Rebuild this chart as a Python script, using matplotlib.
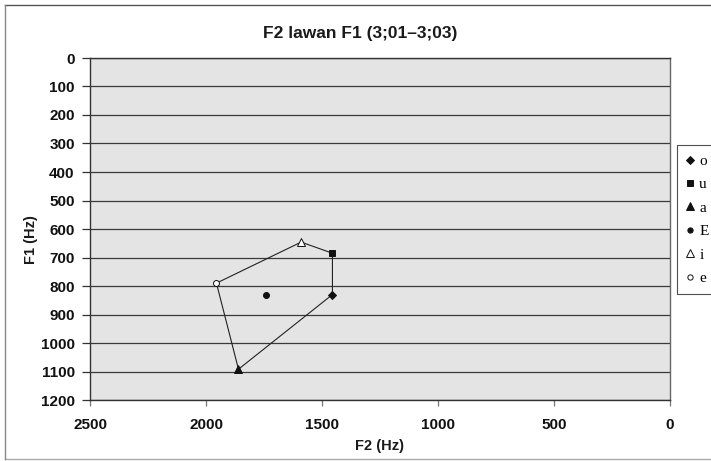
import matplotlib
matplotlib.use("Agg")
import matplotlib.pyplot as plt
from matplotlib.lines import Line2D

# Data: vowel formants (F2, F1) in Hz
vowels = ["o", "u", "a", "E", "i", "e"]
f2 = [1455, 1455, 1860, 1740, 1590, 1955]
f1 = [830, 685, 1092, 832, 646, 790]
markers = ["D", "s", "^", "o", "^", "o"]
filled = [True, True, True, True, False, False]
msizes = [4.5, 4.8, 5.8, 4.3, 5.8, 4.3]

# outline order of the vowel polygon
outline = ["i", "u", "o", "a", "e", "i"]

x_ticks = [2500, 2000, 1500, 1000, 500, 0]
y_ticks = list(range(0, 1300, 100))

plt.rcParams["font.family"] = ["Liberation Sans", "DejaVu Sans"]

W, H = 711, 461
fig = plt.figure(figsize=(W / 100, H / 100), dpi=100)
ax = fig.add_axes([90 / W, 1 - 400 / H, 580 / W, 342 / H])
ax.set_facecolor("#e4e4e4")

ax.set_xlim(2500, 0)
ax.set_ylim(1200, 0)
ax.set_xticks(x_ticks)
ax.set_yticks(y_ticks)
ax.set_xticklabels([str(v) for v in x_ticks], fontsize=11, fontweight="bold", color="#111111")
ax.set_yticklabels([str(v) for v in y_ticks], fontsize=11, fontweight="bold", color="#111111")
ax.tick_params(axis="y", direction="out", length=6, width=0.9, color="#333333", pad=5)
ax.tick_params(axis="x", direction="out", length=4, width=0.9, color="#777777", pad=9)
ax.grid(axis="y", color="#3a3a3a", linewidth=0.9)
ax.set_axisbelow(True)
for s in ["left", "bottom", "top"]:
    ax.spines[s].set_color("#333333")
    ax.spines[s].set_linewidth(1.0)
ax.spines["right"].set_color("#666666")
ax.spines["right"].set_linewidth(1.0)

idx = {v: i for i, v in enumerate(vowels)}
ax.plot([f2[idx[v]] for v in outline], [f1[idx[v]] for v in outline],
        color="#222222", linewidth=0.8, zorder=3)

handles = []
for v, x, y, m, fl, ms in zip(vowels, f2, f1, markers, filled, msizes):
    fc = "#111111" if fl else "white"
    ax.plot([x], [y], marker=m, markersize=ms, markerfacecolor=fc,
            markeredgecolor="#111111", markeredgewidth=0.7, linestyle="none", zorder=4)
    handles.append(Line2D([], [], marker=m, markersize=ms - 0.5, markerfacecolor=fc,
                          markeredgecolor="#111111", markeredgewidth=0.7, linestyle="none",
                          label=v))

leg = fig.legend(handles=handles, loc="upper left",
                 bbox_to_anchor=(677 / W, 0, 50 / W, 1 - 145 / H), mode="expand",
                 prop={"family": "Liberation Serif", "size": 11},
                 frameon=True, fancybox=False, edgecolor="#222222",
                 handlelength=0.5, handletextpad=0.35, labelspacing=0.64,
                 borderpad=0.6, borderaxespad=0.0)
leg.get_frame().set_linewidth(0.8)

fig.text(360 / W, 1 - 33 / H, "F2 lawan F1 (3;01\u20133;03)", ha="center", va="center",
         fontsize=12.5, fontweight="bold", color="#1a1a1a")
fig.text(380 / W, 1 - 446 / H, "F2 (Hz)", ha="center", va="center",
         fontsize=10.5, fontweight="bold", color="#1a1a1a")
fig.text(31 / W, 1 - 240 / H, "F1 (Hz)", ha="center", va="center", rotation=90,
         fontsize=10.5, fontweight="bold", color="#1a1a1a")

# outer chart border
bx0, by0 = 5 / W, 1 - 459 / H
by1 = 1 - 5 / H
fig.add_artist(Line2D([bx0, 1.0], [by1, by1], transform=fig.transFigure, color="#555555", lw=1.0))
fig.add_artist(Line2D([bx0, 1.0], [by0, by0], transform=fig.transFigure, color="#aaaaaa", lw=1.0))
fig.add_artist(Line2D([bx0, bx0], [by0, by1], transform=fig.transFigure, color="#888888", lw=1.0))

fig.savefig("out.png", dpi=100)
